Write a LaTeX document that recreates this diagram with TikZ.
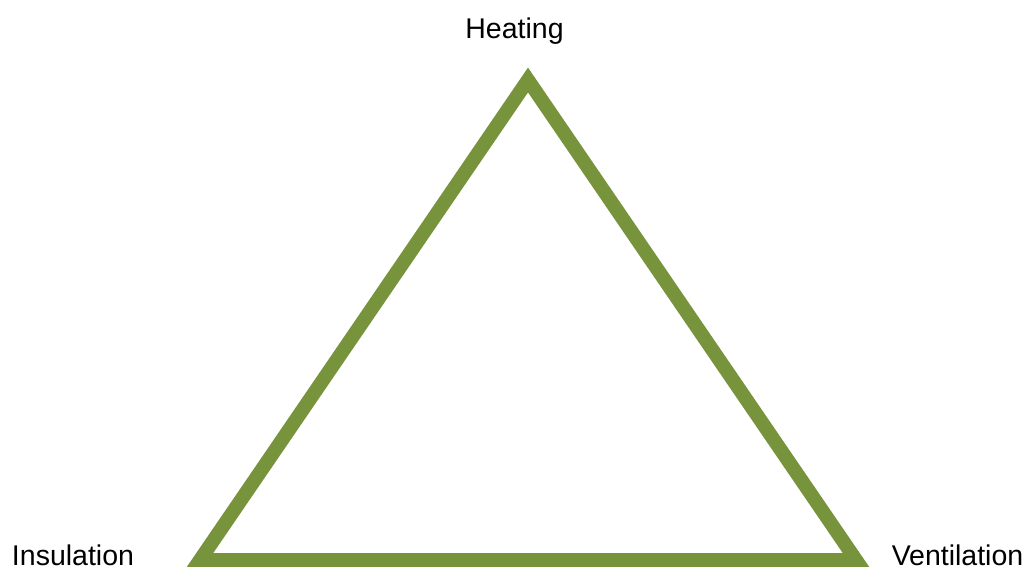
\documentclass[tikz,border=0pt]{standalone}
\usepackage{fontspec}
\setmainfont{Liberation Sans}
\usepackage{xcolor}
\usepackage{tikz}
\usetikzlibrary{positioning}
\definecolor{TriGreen}{HTML}{77933C}
\definecolor{TextDark}{HTML}{000000}

\begin{document}
\begin{tikzpicture}[x=1pt,y=-1pt,
          every node/.style={font=\fontsize{28.5}{34}\selectfont,text=TextDark,
            inner sep=0pt,anchor=base},
          side/.style={draw=TriGreen,line width=14pt,line join=miter}]
        \useasboundingbox (0,0) rectangle (1030,566);
        \clip (0,0) rectangle (1030,566);
        \coordinate (top) at (528,80);
        \coordinate (botleft) at (200,560);
        \coordinate (botright) at (856,560);
        \draw[side] (top) -- (botright) -- (botleft) -- cycle;
        \node (heat) at (514.5,38) {Heating};
        \node (insul) at (73,565) {Insulation};
        \node (vent) at (957.5,565) {Ventilation};
      \end{tikzpicture}
\end{document}
